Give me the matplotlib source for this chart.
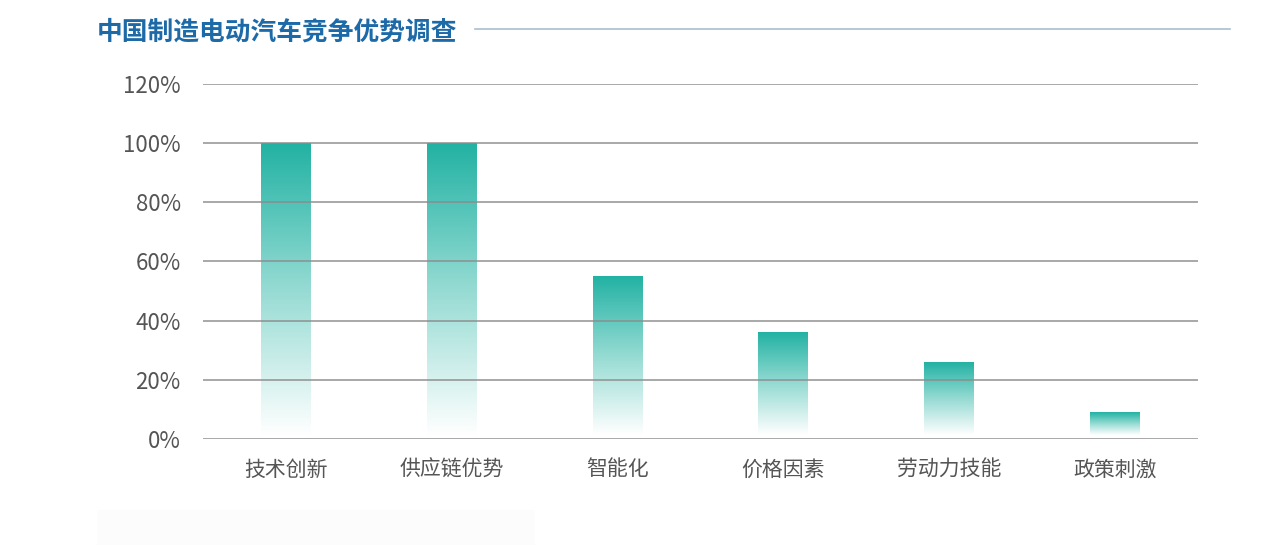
import numpy as np
import matplotlib.pyplot as plt
from matplotlib.colors import LinearSegmentedColormap
from matplotlib.patches import Rectangle
from matplotlib.lines import Line2D

plt.rcParams['font.family'] = ['Noto Sans CJK SC', 'DejaVu Sans']

# Data
categories = ['技术创新', '供应链优势', '智能化', '价格因素', '劳动力技能', '政策刺激']
values = [100, 100, 55, 36, 26, 9]
yticks = [0, 20, 40, 60, 80, 100, 120]
title = '中国制造电动汽车竞争优势调查'

teal = '#22b2a3'
cmap = LinearSegmentedColormap.from_list('fade', ['#ffffff', '#95dbd3', teal])

fig = plt.figure(figsize=(12.74, 5.5), dpi=100)
ax = fig.add_axes([0.1593, 0.2018, 0.781, 0.6455])

# gradient bars (each bar fades from teal at the top to white at the bottom)
bar_w = 0.3
grad = np.linspace(0, 1, 256).reshape(-1, 1)
for i, v in enumerate(values):
    ax.imshow(grad, cmap=cmap, origin='lower', aspect='auto',
              extent=(i - bar_w / 2, i + bar_w / 2, 1.5, v), zorder=2,
              interpolation='bicubic')

ax.set_xlim(-0.5, len(categories) - 0.5)
ax.set_ylim(0, 120)

# grid lines drawn over the bars
for t in yticks:
    ax.axhline(t, color='#8c8c8c', lw=1.4, alpha=0.75, zorder=3)

ax.set_yticks(yticks)
ax.set_yticklabels([f'{t}%' for t in yticks])
ax.set_xticks(range(len(categories)))
ax.set_xticklabels(categories)
ax.tick_params(axis='both', length=0, labelsize=15, colors='#555555')
ax.tick_params(axis='y', labelsize=16, pad=16)
ax.tick_params(axis='x', pad=14)
for s in ax.spines.values():
    s.set_visible(False)

# title and the rule next to it
fig.text(97 / 1274, 0.941, title, fontsize=18.5, fontweight='bold',
         color='#1d6aa8', va='center', ha='left')
fig.add_artist(Line2D([475 / 1274, 1230 / 1274], [0.947, 0.947],
                      color='#a9bfd0', lw=1.2))

# faint panel at the bottom left
fig.add_artist(Rectangle((97 / 1274, 5 / 550), 438 / 1274, 35 / 550,
                         facecolor='#fcfcfc', edgecolor='none', zorder=0))

fig.savefig('out.png', dpi=100)
